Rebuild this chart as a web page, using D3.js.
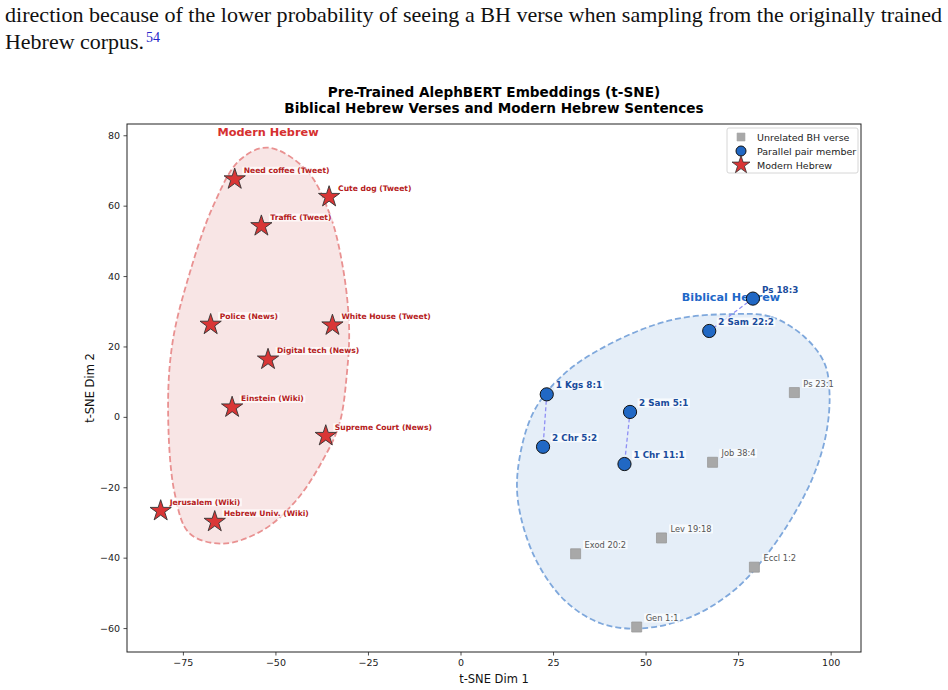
<!DOCTYPE html>
<html>
<head>
<meta charset="utf-8">
<script src="https://cdn.jsdelivr.net/npm/d3@7"></script>
<style>
  body { margin: 0; background: #fff; }
  svg { display: block; }
</style>
</head>
<body>
<div class="chart"></div>
<script>
// ---- data ----
var modernNames = ["Need coffee (Tweet)", "Cute dog (Tweet)", "Traffic (Tweet)", "Police (News)",
    "White House (Tweet)", "Digital tech (News)", "Einstein (Wiki)", "Supreme Court (News)",
    "Jerusalem (Wiki)", "Hebrew Univ. (Wiki)"];
var modernX = [-61.0, -35.5, -53.8, -67.5, -34.6, -52.0, -61.7, -36.4, -81.0, -66.4];
var modernY = [67.5, 62.5, 54.2, 26.2, 26.0, 16.3, 2.7, -5.4, -26.7, -29.8];

var pairNames = ["Ps 18:3", "2 Sam 22:2", "1 Kgs 8:1", "2 Chr 5:2", "2 Sam 5:1", "1 Chr 11:1"];
var pairX = [79.0, 67.2, 23.3, 22.3, 45.8, 44.3];
var pairY = [33.6, 24.4, 6.4, -8.5, 1.4, -13.4];
var pairLinks = [[0, 1], [2, 3], [4, 5]];

var otherNames = ["Ps 23:1", "Job 38:4", "Lev 19:18", "Exod 20:2", "Eccl 1:2", "Gen 1:1"];
var otherX = [90.2, 68.1, 54.3, 31.1, 79.4, 47.6];
var otherY = [6.9, -12.9, -34.4, -38.9, -42.7, -59.7];

// outlines of the two groups (data coords)
var modernHullX = [-52.0, -41.65, -35.4, -31.8, -30.1, -30.7, -32.7, -37.2, -44.35, -53.4, -64.2, -73.2, -77.2, -79.0, -77.7, -73.2, -66.9, -59.7];
var modernHullY = [76.5, 70.1, 57.8, 42.6, 25.6, 12.3, -1.9, -12.3, -23.7, -32.2, -36.0, -33.1, -21.8, 2.8, 21.8, 40.7, 59.7, 72.9];
var biblicalHullX = [73.15, 83.95, 92.95, 98.35, 99.7, 98.8, 95.6, 90.25, 83.0, 74.0, 62.3, 48.8, 38.0, 28.1, 20.0, 15.5, 16.0, 20.0, 28.1, 40.7, 56.9];
var biblicalHullY = [29.2, 28.4, 22.7, 15.2, 6.6, -4.7, -16.1, -27.4, -38.8, -49.2, -56.8, -60.1, -58.7, -52.1, -39.8, -23.7, -11.4, 1.9, 12.3, 20.9, 27.5];

var xTicks = [-75, -50, -25, 0, 25, 50, 75, 100];
var yTicks = [-60, -40, -20, 0, 20, 40, 60, 80];
var xDomain = [-90.1, 108.2];
var yDomain = [-66.8, 83.2];

var legendLabels = ["Unrelated BH verse", "Parallel pair member", "Modern Hebrew"];

// ---- layout ----
var width = 948, height = 690;
var plot = {left: 127, right: 861, top: 124, bottom: 652};

var svg = d3.select(".chart").append("svg")
    .attr("width", width)
    .attr("height", height);

// body text above the figure
var body = svg.append("g").attr("font-family", "Liberation Serif, serif").attr("fill", "#111");
body.append("text")
    .attr("x", 5).attr("y", 22)
    .attr("font-size", 21)
    .attr("textLength", 937).attr("lengthAdjust", "spacingAndGlyphs")
    .text("direction because of the lower probability of seeing a BH verse when sampling from the originally trained");
body.append("text")
    .attr("x", 5).attr("y", 49)
    .attr("font-size", 21)
    .attr("textLength", 139).attr("lengthAdjust", "spacingAndGlyphs")
    .text("Hebrew corpus.");
body.append("text")
    .attr("x", 146).attr("y", 42)
    .attr("font-size", 14)
    .attr("fill", "#2525c8")
    .text("54");

var x = d3.scaleLinear().domain(xDomain).range([plot.left, plot.right]);
var y = d3.scaleLinear().domain(yDomain).range([plot.bottom, plot.top]);

var fontSans = "DejaVu Sans, sans-serif";

// title
var title = svg.append("text")
    .attr("text-anchor", "middle")
    .attr("font-family", fontSans)
    .attr("font-weight", "bold")
    .attr("font-size", 13.6)
    .attr("fill", "#000");
title.append("tspan").attr("x", (plot.left + plot.right) / 2).attr("y", 97).text("Pre-Trained AlephBERT Embeddings (t-SNE)");
title.append("tspan").attr("x", (plot.left + plot.right) / 2).attr("y", 113).text("Biblical Hebrew Verses and Modern Hebrew Sentences");

// hull outlines
var hullLine = d3.line()
    .x(function(d) { return x(d[0]); })
    .y(function(d) { return y(d[1]); })
    .curve(d3.curveCatmullRomClosed.alpha(0.5));

svg.append("path")
    .attr("d", hullLine(d3.zip(modernHullX, modernHullY)))
    .attr("fill", "#f8e5e5")
    .attr("stroke", "#e99191")
    .attr("stroke-width", 1.8)
    .attr("stroke-dasharray", "6,3");

svg.append("path")
    .attr("d", hullLine(d3.zip(biblicalHullX, biblicalHullY)))
    .attr("fill", "#e5eef8")
    .attr("stroke", "#7fa8dc")
    .attr("stroke-width", 1.8)
    .attr("stroke-dasharray", "6,3");

// group titles
svg.append("text")
    .attr("x", 268).attr("y", 136)
    .attr("text-anchor", "middle")
    .attr("font-family", fontSans).attr("font-weight", "bold").attr("font-size", 11.3)
    .attr("fill", "#d63030")
    .text("Modern Hebrew");

svg.append("text")
    .attr("x", 731).attr("y", 301)
    .attr("text-anchor", "middle")
    .attr("font-family", fontSans).attr("font-weight", "bold").attr("font-size", 11.2)
    .attr("fill", "#1e68c8")
    .text("Biblical Hebrew");

// axes
var xAxis = svg.append("g")
    .attr("transform", "translate(0," + plot.bottom + ")")
    .call(d3.axisBottom(x).tickValues(xTicks).tickSize(3.5).tickPadding(3.5)
        .tickFormat(function(d) { return d < 0 ? "\u2212" + Math.abs(d) : d; }));
var yAxis = svg.append("g")
    .attr("transform", "translate(" + plot.left + ",0)")
    .call(d3.axisLeft(y).tickValues(yTicks).tickSize(3.5).tickPadding(3.5)
        .tickFormat(function(d) { return d < 0 ? "\u2212" + Math.abs(d) : d; }));
[xAxis, yAxis].forEach(function(ax) {
    ax.select(".domain").remove();
    ax.selectAll("text").attr("font-family", fontSans).attr("font-size", 9.5).attr("fill", "#222");
    ax.selectAll("line").attr("stroke", "#222").attr("stroke-width", 0.8);
});

svg.append("rect")
    .attr("x", plot.left).attr("y", plot.top)
    .attr("width", plot.right - plot.left).attr("height", plot.bottom - plot.top)
    .attr("fill", "none").attr("stroke", "#222").attr("stroke-width", 1);

svg.append("text")
    .attr("x", (plot.left + plot.right) / 2).attr("y", 683)
    .attr("text-anchor", "middle")
    .attr("font-family", fontSans).attr("font-size", 11.5).attr("fill", "#111")
    .text("t-SNE Dim 1");
svg.append("text")
    .attr("transform", "translate(94," + ((plot.top + plot.bottom) / 2) + ") rotate(-90)")
    .attr("text-anchor", "middle")
    .attr("font-family", fontSans).attr("font-size", 11.5).attr("fill", "#111")
    .text("t-SNE Dim 2");

// pair links
var linkG = svg.append("g");
pairLinks.forEach(function(p) {
    linkG.append("line")
        .attr("x1", x(pairX[p[0]])).attr("y1", y(pairY[p[0]]))
        .attr("x2", x(pairX[p[1]])).attr("y2", y(pairY[p[1]]))
        .attr("stroke", "#8f8ff5")
        .attr("stroke-width", 1.3)
        .attr("stroke-dasharray", "4,2.5");
});

// label helper: text with a light white box
function addLabel(g, px, py, txt, opts) {
    var t = g.append("text")
        .attr("x", px).attr("y", py)
        .attr("font-family", fontSans)
        .attr("font-size", opts.size)
        .attr("font-weight", opts.weight)
        .attr("fill", opts.color)
        .text(txt);
    var bb = t.node().getBBox();
    g.insert("rect", function() { return t.node(); })
        .attr("x", bb.x - 1.5).attr("y", bb.y + 0.5)
        .attr("width", bb.width + 3).attr("height", bb.height - 1)
        .attr("fill", "#fff").attr("fill-opacity", 0.7);
}

// unrelated verses
var starPath = d3.symbol().type(d3.symbolStar).size(140);
var squarePath = d3.symbol().type(d3.symbolSquare).size(100);

var otherG = svg.append("g");
otherX.forEach(function(v, i) {
    otherG.append("path")
        .attr("d", squarePath())
        .attr("transform", "translate(" + x(v) + "," + y(otherY[i]) + ")")
        .attr("fill", "#a8a8a8").attr("stroke", "#999").attr("stroke-width", 0.8);
});
var otherLab = svg.append("g");
otherX.forEach(function(v, i) {
    addLabel(otherLab, x(v) + 9, y(otherY[i]) - 6, otherNames[i], {size: 8.3, weight: "normal", color: "#555"});
});

// parallel pairs
var pairG = svg.append("g");
pairX.forEach(function(v, i) {
    pairG.append("circle")
        .attr("cx", x(v)).attr("cy", y(pairY[i])).attr("r", 6.6)
        .attr("fill", "#2168c4").attr("stroke", "#111").attr("stroke-width", 1);
});
var pairLab = svg.append("g");
pairX.forEach(function(v, i) {
    addLabel(pairLab, x(v) + 9, y(pairY[i]) - 6, pairNames[i], {size: 8.8, weight: "bold", color: "#1a4c9c"});
});

// modern hebrew stars
var modG = svg.append("g");
modernX.forEach(function(v, i) {
    modG.append("path")
        .attr("d", starPath())
        .attr("transform", "translate(" + x(v) + "," + y(modernY[i]) + ")")
        .attr("fill", "#d93636").attr("stroke", "#333").attr("stroke-width", 0.9);
});
var modLab = svg.append("g");
modernX.forEach(function(v, i) {
    addLabel(modLab, x(v) + 9, y(modernY[i]) - 6, modernNames[i], {size: 7.6, weight: "bold", color: "#b52020"});
});

// legend
var leg = svg.append("g").attr("transform", "translate(727,128)");
leg.append("rect")
    .attr("width", 131).attr("height", 45).attr("rx", 2)
    .attr("fill", "#fff").attr("fill-opacity", 0.85)
    .attr("stroke", "#ccc").attr("stroke-width", 0.8);
leg.append("path").attr("d", d3.symbol().type(d3.symbolSquare).size(64)())
    .attr("transform", "translate(14,9)")
    .attr("fill", "#a8a8a8").attr("stroke", "#aaa").attr("stroke-width", 0.6);
leg.append("circle").attr("cx", 14).attr("cy", 23).attr("r", 5)
    .attr("fill", "#2168c4").attr("stroke", "#111").attr("stroke-width", 1);
leg.append("path").attr("d", d3.symbol().type(d3.symbolStar).size(100)())
    .attr("transform", "translate(14,37)")
    .attr("fill", "#d93636").attr("stroke", "#333").attr("stroke-width", 0.8);
legendLabels.forEach(function(l, i) {
    leg.append("text")
        .attr("x", 30).attr("y", 12.5 + i * 14)
        .attr("font-family", fontSans).attr("font-size", 9.5).attr("fill", "#222")
        .text(l);
});
</script>
</body>
</html>
